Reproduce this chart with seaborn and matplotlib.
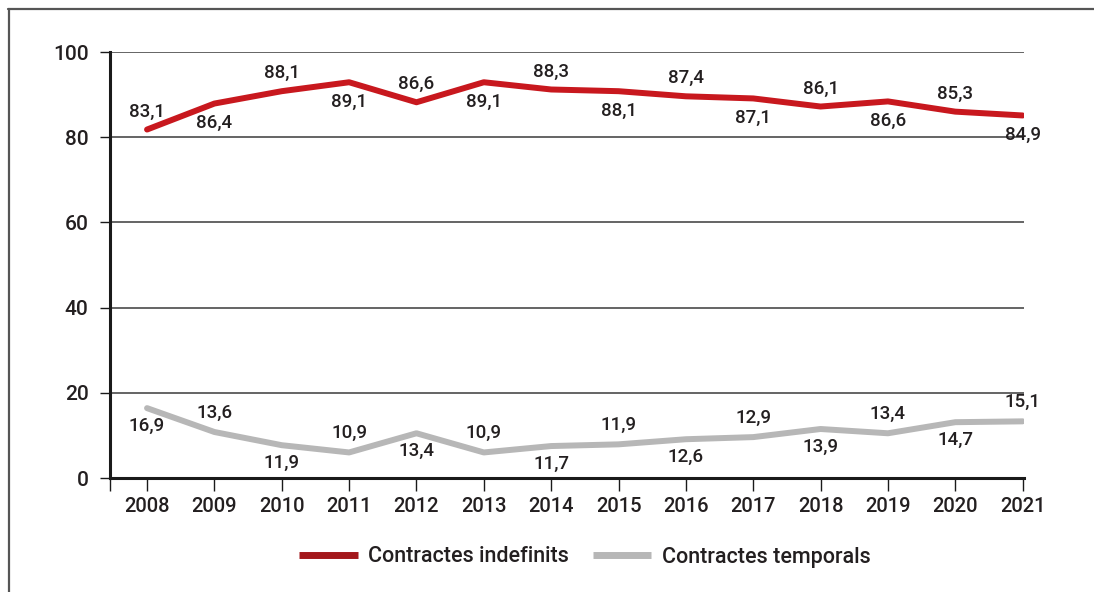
import matplotlib
matplotlib.use("Agg")
import matplotlib.pyplot as plt
import seaborn as sns
import pandas as pd
from matplotlib.lines import Line2D

years = [2008, 2009, 2010, 2011, 2012, 2013, 2014, 2015, 2016, 2017, 2018, 2019, 2020, 2021]
indefinits = [81.8, 87.9, 90.8, 92.9, 88.2, 92.9, 91.2, 90.8, 89.6, 89.1, 87.2, 88.4, 86.0, 85.1]
temporals = [16.4, 10.8, 7.7, 6.0, 10.5, 6.0, 7.5, 7.9, 9.1, 9.6, 11.5, 10.5, 13.1, 13.3]
labels_indefinits = ["83,1", "86,4", "88,1", "89,1", "86,6", "89,1", "88,3", "88,1", "87,4", "87,1", "86,1", "86,6", "85,3", "84,9"]
labels_temporals = ["16,9", "13,6", "11,9", "10,9", "13,4", "10,9", "11,7", "11,9", "12,6", "12,9", "13,9", "13,4", "14,7", "15,1"]
series_names = ["Contractes indefinits", "Contractes temporals"]
yticks = [0, 20, 40, 60, 80, 100]

sns.set_theme(style="white")
plt.rcParams['font.family'] = ['Roboto', 'DejaVu Sans']
plt.rcParams['font.weight'] = 500
text_color = "#231f20"

df = pd.concat([
    pd.DataFrame({"year": years, "value": indefinits, "serie": series_names[0]}),
    pd.DataFrame({"year": years, "value": temporals, "serie": series_names[1]}),
])

fig = plt.figure(figsize=(10.94, 5.92), dpi=100)
ax = fig.add_axes([110 / 1094, 1 - 478 / 592, (1024 - 110) / 1094, (478 - 52) / 592])

palette = {series_names[0]: "#c8181e", series_names[1]: "#b7b7b7"}
sns.lineplot(data=df, x="year", y="value", hue="serie", palette=palette,
             linewidth=4.3, ax=ax, legend=True, solid_capstyle="round")

ax.set_xlim(2007.45, 2021.02)
ax.set_ylim(0, 100)
ax.set_yticks(yticks)
ax.set_yticklabels([str(v) for v in yticks])
ax.set_xticks(years)
ax.set_xticklabels([str(y) for y in years])
ax.set_xticks([2007.45], minor=True)
ax.set_xlabel("")
ax.set_ylabel("")

for v in yticks[1:]:
    ax.axhline(v, color="#3a3a3a", linewidth=1.1, zorder=0.5)

for side in ["top", "right"]:
    ax.spines[side].set_visible(False)
for side in ["left", "bottom"]:
    ax.spines[side].set_color("#1a1a1a")
    ax.spines[side].set_linewidth(2.2)

ax.tick_params(axis="y", which="major", direction="out", length=7.5, width=1.0,
               color="#1a1a1a", pad=8, labelsize=15, labelcolor=text_color, left=True)
ax.tick_params(axis="x", which="both", direction="out", length=9.5, width=1.0,
               color="#1a1a1a", pad=4, labelsize=14.5, labelcolor=text_color, bottom=True)

# data labels, alternating above/below
for i, (yr, v, lab) in enumerate(zip(years, indefinits, labels_indefinits)):
    off = 13 if i % 2 == 0 else -14
    ax.annotate(lab, (yr, v), xytext=(0, off), textcoords="offset points",
                ha="center", va="center", fontsize=13.5, color=text_color)
for i, (yr, v, lab) in enumerate(zip(years, temporals, labels_temporals)):
    off = -13 if i % 2 == 0 else 14
    ax.annotate(lab, (yr, v), xytext=(0, off), textcoords="offset points",
                ha="center", va="center", fontsize=13.5, color=text_color)

# legend
handles, labs = ax.get_legend_handles_labels()
ax.legend(handles=handles, labels=labs, loc="center", bbox_to_anchor=(585 / 1094, 1 - 557 / 592),
          bbox_transform=fig.transFigure, ncol=2, frameon=False, fontsize=15.5,
          handlelength=2.7, handletextpad=0.5, columnspacing=1.1, labelcolor=text_color)
leg_lines = ax.get_legend().get_lines()
for h in leg_lines:
    h.set_linewidth(5)
    h.set_solid_capstyle("butt")
leg_lines[0].set_color("#a3171b")

# figure border (top and left)
fig.add_artist(Line2D([8 / 1094, 1], [1 - 8.5 / 592, 1 - 8.5 / 592], transform=fig.transFigure,
                      color="#555555", linewidth=1.6))
fig.add_artist(Line2D([8.5 / 1094, 8.5 / 1094], [0, 1 - 8.5 / 592], transform=fig.transFigure,
                      color="#555555", linewidth=1.6))

fig.savefig("out.png", dpi=100)
